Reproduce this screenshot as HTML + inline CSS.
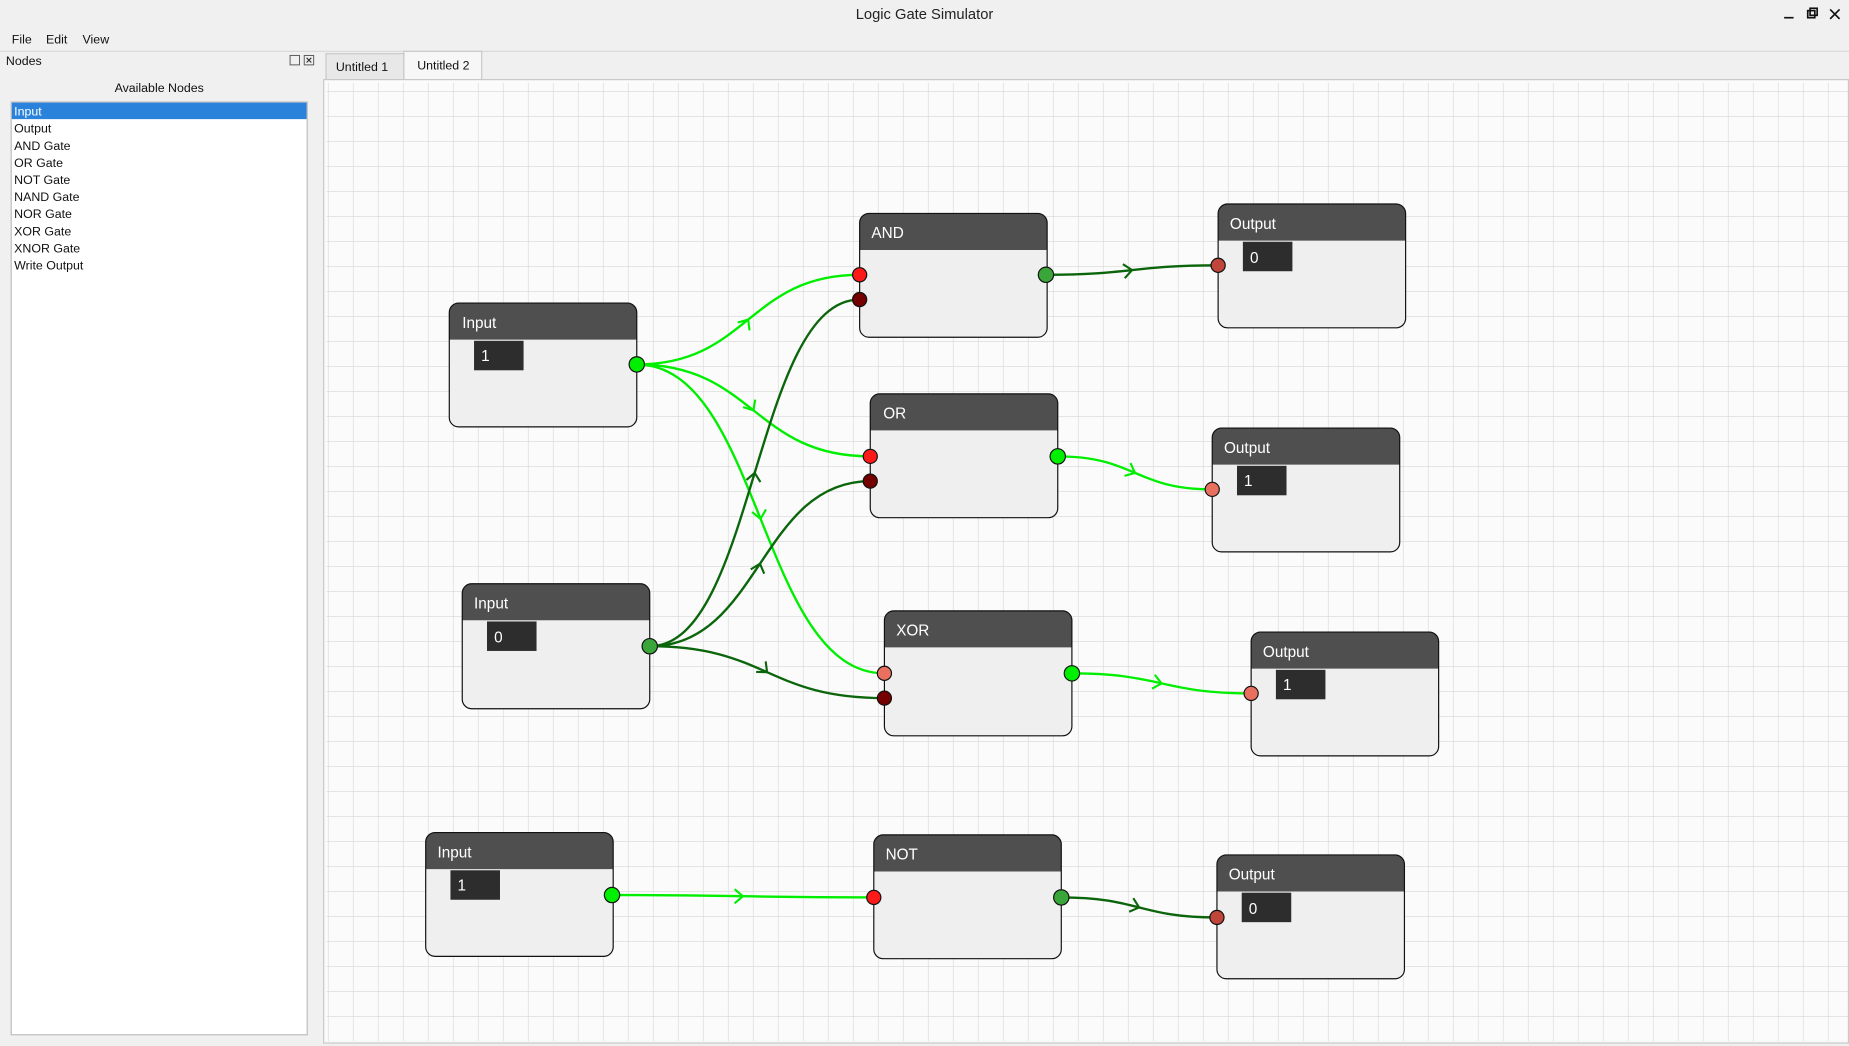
<!DOCTYPE html>
<html><head><meta charset="utf-8"><style>
html,body{margin:0;padding:0;background:#f0f0f0;overflow:hidden}
svg{display:block}
text{font-family:"Liberation Sans",sans-serif}
</style></head><body>
<svg width="1849" height="1046" viewBox="0 0 1568 887" xmlns="http://www.w3.org/2000/svg">
<defs>
<pattern id="g" x="278.6" y="56.8" width="21.2" height="21.2" patternUnits="userSpaceOnUse">
<path d="M21.2 0V21.2M0 21.2H21.2" stroke="#d6d6d6" stroke-width="1" fill="none"/>
</pattern>
<marker id="ab" markerWidth="16" markerHeight="16" refX="8" refY="8" orient="auto" markerUnits="userSpaceOnUse"><path d="M1 2 L8 8 L1 14" fill="none" stroke="#00ee00" stroke-width="1.8"/></marker>
<marker id="ad" markerWidth="16" markerHeight="16" refX="8" refY="8" orient="auto" markerUnits="userSpaceOnUse"><path d="M1 2 L8 8 L1 14" fill="none" stroke="#0b650b" stroke-width="1.8"/></marker>
</defs>
<rect width="1568" height="887" fill="#f0f0f0"/>
<text x="784" y="16" font-size="12.5" text-anchor="middle" fill="#222">Logic Gate Simulator</text>
<g stroke="#111" stroke-width="1.4" fill="none">
<path d="M1513 15H1521"/><rect x="1533" y="9" width="6" height="6"/><rect x="1535" y="7" width="6" height="6"/>
<path d="M1552 8L1560 16M1560 8L1552 16"/></g>
<text x="10" y="37" font-size="10.5" fill="#111">File</text>
<text x="39" y="37" font-size="10.5" fill="#111">Edit</text>
<text x="70" y="37" font-size="10.5" fill="#111">View</text>
<line x1="0" y1="43.5" x2="1568" y2="43.5" stroke="#d8d8d8"/>
<text x="5" y="55" font-size="10.5" fill="#111">Nodes</text>
<rect x="246" y="47" width="8" height="8" fill="none" stroke="#555" stroke-width="0.8"/>
<rect x="258" y="47" width="8" height="8" fill="none" stroke="#555" stroke-width="0.8"/>
<path d="M260 49L264 53M264 49L260 53" stroke="#333"/>
<text x="135" y="78" font-size="10.5" text-anchor="middle" fill="#111">Available Nodes</text>
<rect x="9.5" y="86.5" width="251" height="791" fill="#fff" stroke="#bdbdbd"/>
<rect x="10" y="87" width="250" height="14" fill="#2a82da"/>
<g font-size="10.5" fill="#111">
<text x="12" y="98" fill="#fff">Input</text>
<text x="12" y="112.5">Output</text>
<text x="12" y="127">AND Gate</text>
<text x="12" y="141.5">OR Gate</text>
<text x="12" y="156">NOT Gate</text>
<text x="12" y="170.5">NAND Gate</text>
<text x="12" y="185">NOR Gate</text>
<text x="12" y="199.5">XOR Gate</text>
<text x="12" y="214">XNOR Gate</text>
<text x="12" y="228.5">Write Output</text>
</g>
<rect x="276.5" y="45.5" width="66" height="22" fill="#e8e8e8" stroke="#c8c8c8"/>
<rect x="342.5" y="43.5" width="66" height="24" fill="#f7f7f7" stroke="#c8c8c8"/>
<text x="307" y="60" font-size="10.5" text-anchor="middle" fill="#111">Untitled 1</text>
<text x="376" y="59" font-size="10.5" text-anchor="middle" fill="#111">Untitled 2</text>
<rect x="274.5" y="67.5" width="1293" height="817" fill="#fbfbfb" stroke="#c8c8c8"/>
<rect x="277" y="70" width="1290" height="813" fill="url(#g)"/>

<g font-size="13" fill="#fff">
<g transform="translate(381,257)"><rect width="159" height="105" rx="8" fill="#efefef"/><path d="M0 31V8A8 8 0 0 1 8 0H151A8 8 0 0 1 159 8V31Z" fill="#4f4f4f"/><rect width="159" height="105" rx="8" fill="none" stroke="#111"/><text x="11" y="21">Input</text><rect x="21" y="32" width="42" height="25" fill="#2d2d2d"/><text x="27" y="49">1</text></g>
<g transform="translate(392,495)"><rect width="159" height="106" rx="8" fill="#efefef"/><path d="M0 31V8A8 8 0 0 1 8 0H151A8 8 0 0 1 159 8V31Z" fill="#4f4f4f"/><rect width="159" height="106" rx="8" fill="none" stroke="#111"/><text x="10" y="21">Input</text><rect x="21" y="32" width="42" height="25" fill="#2d2d2d"/><text x="27" y="50">0</text></g>
<g transform="translate(361,706)"><rect width="159" height="105" rx="8" fill="#efefef"/><path d="M0 31V8A8 8 0 0 1 8 0H151A8 8 0 0 1 159 8V31Z" fill="#4f4f4f"/><rect width="159" height="105" rx="8" fill="none" stroke="#111"/><text x="10" y="21">Input</text><rect x="21" y="32" width="42" height="25" fill="#2d2d2d"/><text x="27" y="49">1</text></g>
<g transform="translate(729,181)"><rect width="159" height="105" rx="8" fill="#efefef"/><path d="M0 31V8A8 8 0 0 1 8 0H151A8 8 0 0 1 159 8V31Z" fill="#4f4f4f"/><rect width="159" height="105" rx="8" fill="none" stroke="#111"/><text x="10" y="21">AND</text></g>
<g transform="translate(738,334)"><rect width="159" height="105" rx="8" fill="#efefef"/><path d="M0 31V8A8 8 0 0 1 8 0H151A8 8 0 0 1 159 8V31Z" fill="#4f4f4f"/><rect width="159" height="105" rx="8" fill="none" stroke="#111"/><text x="11" y="21">OR</text></g>
<g transform="translate(750,518)"><rect width="159" height="106" rx="8" fill="#efefef"/><path d="M0 31V8A8 8 0 0 1 8 0H151A8 8 0 0 1 159 8V31Z" fill="#4f4f4f"/><rect width="159" height="106" rx="8" fill="none" stroke="#111"/><text x="10" y="21">XOR</text></g>
<g transform="translate(741,708)"><rect width="159" height="105" rx="8" fill="#efefef"/><path d="M0 31V8A8 8 0 0 1 8 0H151A8 8 0 0 1 159 8V31Z" fill="#4f4f4f"/><rect width="159" height="105" rx="8" fill="none" stroke="#111"/><text x="10" y="21">NOT</text></g>
<g transform="translate(1033,173)"><rect width="159" height="105" rx="8" fill="#efefef"/><path d="M0 31V8A8 8 0 0 1 8 0H151A8 8 0 0 1 159 8V31Z" fill="#4f4f4f"/><rect width="159" height="105" rx="8" fill="none" stroke="#111"/><text x="10" y="21">Output</text><rect x="21" y="32" width="42" height="25" fill="#2d2d2d"/><text x="27" y="50">0</text></g>
<g transform="translate(1028,363)"><rect width="159" height="105" rx="8" fill="#efefef"/><path d="M0 31V8A8 8 0 0 1 8 0H151A8 8 0 0 1 159 8V31Z" fill="#4f4f4f"/><rect width="159" height="105" rx="8" fill="none" stroke="#111"/><text x="10" y="21">Output</text><rect x="21" y="32" width="42" height="25" fill="#2d2d2d"/><text x="27" y="49">1</text></g>
<g transform="translate(1061,536)"><rect width="159" height="105" rx="8" fill="#efefef"/><path d="M0 31V8A8 8 0 0 1 8 0H151A8 8 0 0 1 159 8V31Z" fill="#4f4f4f"/><rect width="159" height="105" rx="8" fill="none" stroke="#111"/><text x="10" y="21">Output</text><rect x="21" y="32" width="42" height="25" fill="#2d2d2d"/><text x="27" y="49">1</text></g>
<g transform="translate(1032,725)"><rect width="159" height="105" rx="8" fill="#efefef"/><path d="M0 31V8A8 8 0 0 1 8 0H151A8 8 0 0 1 159 8V31Z" fill="#4f4f4f"/><rect width="159" height="105" rx="8" fill="none" stroke="#111"/><text x="10" y="21">Output</text><rect x="21" y="32" width="42" height="25" fill="#2d2d2d"/><text x="27" y="50">0</text></g>
</g>

<g fill="none" stroke-width="2">
<path d="M540 309C634.5 309 634.5 233 729 233" stroke="#00ee00"/>
<path d="M540 309C639 309 639 387 738 387" stroke="#00ee00"/>
<path d="M540 309C645 309 645 571 750 571" stroke="#00ee00"/>
<path d="M551 548C640 548 640 254 729 254" stroke="#0b650b"/>
<path d="M551 548C644.5 548 644.5 408 738 408" stroke="#0b650b"/>
<path d="M551 548C650.5 548 650.5 592 750 592" stroke="#0b650b"/>
<path d="M887 233C960 233 960 225 1033 225" stroke="#0b650b"/>
<path d="M897 387C962.5 387 962.5 415 1028 415" stroke="#00ee00"/>
<path d="M909 571C985 571 985 588 1061 588" stroke="#00ee00"/>
<path d="M519 759C630 759 630 761 741 761" stroke="#00ee00"/>
<path d="M900 761C966 761 966 778 1032 778" stroke="#0b650b"/>
</g>
<g fill="none" stroke="none">
<path d="M634.4 271.15L634.5 271" marker-end="url(#ab)"/>
<path d="M638.9 347.84L639 348" marker-end="url(#ab)"/>
<path d="M644.9 439.48L645 440" marker-end="url(#ab)"/>
<path d="M639.91 401.59L640 401" marker-end="url(#ad)"/>
<path d="M644.41 478.28L644.5 478" marker-end="url(#ad)"/>
<path d="M650.4 569.91L650.5 570" marker-end="url(#ad)"/>
<path d="M959.85 229.02L960 229" marker-end="url(#ad)"/>
<path d="M962.37 400.94L962.5 401" marker-end="url(#ab)"/>
<path d="M984.85 579.47L985 579.5" marker-end="url(#ab)"/>
<path d="M629.8 760L630 760" marker-end="url(#ab)"/>
<path d="M965.87 769.46L966 769.5" marker-end="url(#ad)"/>
</g>

<g stroke="#111" stroke-width="1">
<circle cx="540" cy="309" r="6.5" fill="#00ee00"/>
<circle cx="551" cy="548" r="6.5" fill="#3aa63a"/>
<circle cx="519" cy="759" r="6.5" fill="#00ee00"/>
<circle cx="729" cy="233" r="6" fill="#ff1a1a"/>
<circle cx="729" cy="254" r="6" fill="#750000"/>
<circle cx="887" cy="233" r="6.5" fill="#3aa63a"/>
<circle cx="738" cy="387" r="6" fill="#ff1a1a"/>
<circle cx="738" cy="408" r="6" fill="#750000"/>
<circle cx="897" cy="387" r="6.5" fill="#00ee00"/>
<circle cx="750" cy="571" r="6" fill="#e8705f"/>
<circle cx="750" cy="592" r="6" fill="#750000"/>
<circle cx="909" cy="571" r="6.5" fill="#00ee00"/>
<circle cx="741" cy="761" r="6" fill="#ff1a1a"/>
<circle cx="900" cy="761" r="6.5" fill="#3aa63a"/>
<circle cx="1033" cy="225" r="6" fill="#c0463c"/>
<circle cx="1028" cy="415" r="6" fill="#e8705f"/>
<circle cx="1061" cy="588" r="6" fill="#e8705f"/>
<circle cx="1032" cy="778" r="6" fill="#c0463c"/>
</g>
</svg>
</body></html>
